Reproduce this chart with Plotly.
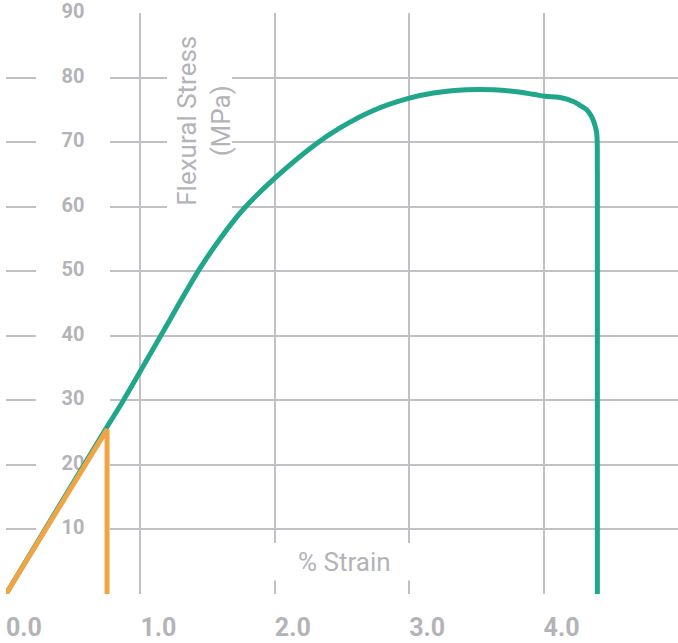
import plotly.graph_objects as go

# Data
strain_a = [0.0, 0.752, 0.871, 1.146, 1.436, 1.592, 1.766, 1.994, 2.299, 2.485,
            2.733, 3.001, 3.180, 3.428, 3.626, 3.800, 3.924, 4.010, 4.122, 4.221,
            4.271, 4.321, 4.358, 4.382, 4.395, 4.400, 4.400]
stress_a = [0.0, 25.9, 29.9, 39.8, 50.2, 55.0, 59.6, 64.3, 69.6, 72.2,
            74.9, 76.8, 77.6, 78.1, 78.1, 77.8, 77.4, 77.1, 76.9, 76.3,
            75.7, 75.0, 73.9, 72.6, 71.4, 65.0, 0.0]

strain_b = [0.0, 0.752, 0.752]
stress_b = [0.0, 25.5, 0.0]

x_ticks = [0, 1, 2, 3, 4]
x_tick_labels = ["0.0", "1.0", "2.0", "3.0", "4.0"]
y_ticks = [10, 20, 30, 40, 50, 60, 70, 80, 90]
y_tick_labels = ["10", "20", "30", "40", "50", "60", "70", "80", "90"]

x_title = "% Strain"
y_title = "Flexural Stress<br>(MPa)"

GREEN = "#1fa68b"
ORANGE = "#f0a444"
GRID = "#c1c1c5"
TEXT = "#b3b3b8"
FONT = "Roboto"

fig = go.Figure()

# y tick labels drawn inside the plot, below the data lines
fig.add_trace(go.Scatter(
    x=[0.498] * len(y_ticks), y=y_ticks, text=y_tick_labels,
    mode="text", textposition="middle center",
    textfont=dict(family=FONT, size=20, color=TEXT, weight=700),
    cliponaxis=False, hoverinfo="skip", showlegend=False))

fig.add_trace(go.Scatter(
    x=strain_a, y=stress_a, mode="lines",
    line=dict(color=GREEN, width=5, shape="spline", smoothing=1.0),
    showlegend=False))

fig.add_trace(go.Scatter(
    x=strain_b, y=stress_b, mode="lines",
    line=dict(color=ORANGE, width=5),
    showlegend=False))

shapes = []
for v in y_ticks:
    shapes.append(dict(type="rect", xref="x", yref="y",
                       x0=0.223, x1=0.774, y0=v - 3, y1=v + 3,
                       fillcolor="white", line=dict(width=0), layer="between"))
# box behind y title
shapes.append(dict(type="rect", xref="x", yref="y", x0=1.198, x1=1.682,
                   y0=58.7, y1=88.1, fillcolor="white", line=dict(width=0),
                   layer="between"))
# box behind x title
shapes.append(dict(type="rect", xref="x", yref="y", x0=1.905, x1=3.13,
                   y0=2.1, y1=7.9, fillcolor="white", line=dict(width=0),
                   layer="between"))

fig.update_layout(
    width=678, height=643,
    margin=dict(l=6, r=0, t=13, b=49),
    paper_bgcolor="white", plot_bgcolor="white",
    shapes=shapes,
    annotations=[
        dict(text=x_title, xref="x", yref="y", x=2.519, y=4.96,
             showarrow=False, font=dict(family=FONT, size=26, color=TEXT),
             xanchor="center", yanchor="middle"),
        dict(text=y_title, xref="x", yref="y", x=1.473, y=73.3,
             showarrow=False, textangle=-90,
             font=dict(family=FONT, size=26, color=TEXT),
             xanchor="center", yanchor="middle"),
    ],
    xaxis=dict(range=[0, 5], tickvals=x_ticks, ticktext=x_tick_labels,
               showgrid=True, gridcolor=GRID, gridwidth=2,
               zeroline=False, showline=False, ticks="",
               ticklabelposition="outside right", ticklabelstandoff=16,
               tickfont=dict(family=FONT, size=25, color=TEXT, weight=700),
               automargin=False, fixedrange=True),
    yaxis=dict(range=[0, 90], tickvals=[0] + y_ticks,
               showgrid=True, gridcolor=GRID, gridwidth=2,
               zeroline=False, showline=False, ticks="",
               showticklabels=False, automargin=False, fixedrange=True),
)

fig.write_html("out.html",
               config={"displayModeBar": False},
               post_script="document.body.style.margin='0';document.body.style.padding='0';")
